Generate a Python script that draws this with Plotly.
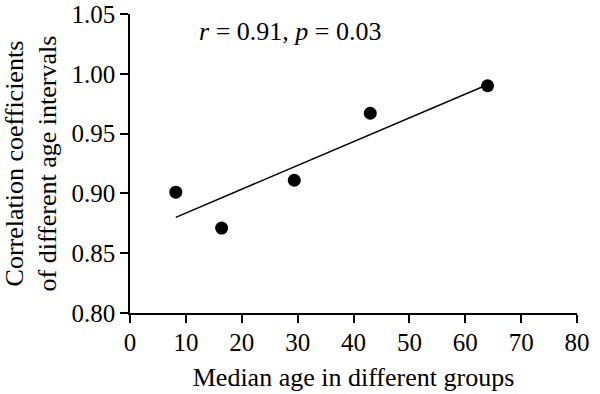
import plotly.graph_objects as go

median_age = [8.2, 16.4, 29.4, 43.0, 64.0]
corr_coef = [0.901, 0.871, 0.911, 0.967, 0.990]
fit_x = [8.2, 63.0]
fit_y = [0.880, 0.989]
x_ticks = [0, 10, 20, 30, 40, 50, 60, 70, 80]
y_ticks = [0.80, 0.85, 0.90, 0.95, 1.00, 1.05]

FONT = "Liberation Serif"

fig = go.Figure()
fig.add_trace(go.Scatter(x=fit_x, y=fit_y, mode="lines",
                         line=dict(color="black", width=1.5), showlegend=False))
fig.add_trace(go.Scatter(x=median_age, y=corr_coef, mode="markers",
                         marker=dict(color="black", size=13), showlegend=False))

fig.add_annotation(x=0.15, y=1.035, xref="paper", yref="y", xanchor="left", yanchor="middle",
                   text="<i>r</i> = 0.91, <i>p</i> = 0.03", showarrow=False,
                   font=dict(family=FONT, size=26, color="black"))
fig.add_annotation(x=0, y=0.5, xref="paper", yref="paper", xanchor="center", yanchor="middle",
                   xshift=-99, textangle=-90,
                   text="Correlation coefficients<br>of different age intervals", showarrow=False,
                   font=dict(family=FONT, size=26, color="black"))

axis_common = dict(showgrid=False, zeroline=False, showline=True, linecolor="black",
                   linewidth=1.5, ticks="outside", ticklen=8, tickwidth=1.5, automargin=False,
                   ticklabeloverflow="allow",
                   tickcolor="black", tickfont=dict(family=FONT, size=25, color="black"))

fig.update_xaxes(range=[0, 80], tickvals=x_ticks, ticktext=[str(v) for v in x_ticks],
                 ticklabelstandoff=-2,
                 title=dict(text="Median age in different groups",
                            font=dict(family=FONT, size=26, color="black"), standoff=13),
                 **axis_common)
fig.update_yaxes(range=[0.80, 1.05], tickvals=y_ticks, ticktext=[f"{v:.2f}" for v in y_ticks],
                 **axis_common)

fig.update_layout(width=600, height=394, margin=dict(l=130, r=23, t=14, b=81),
                  plot_bgcolor="white", paper_bgcolor="white")

fig.write_html("out.html", config={"displayModeBar": False},
               post_script="document.body.style.margin='0';")
